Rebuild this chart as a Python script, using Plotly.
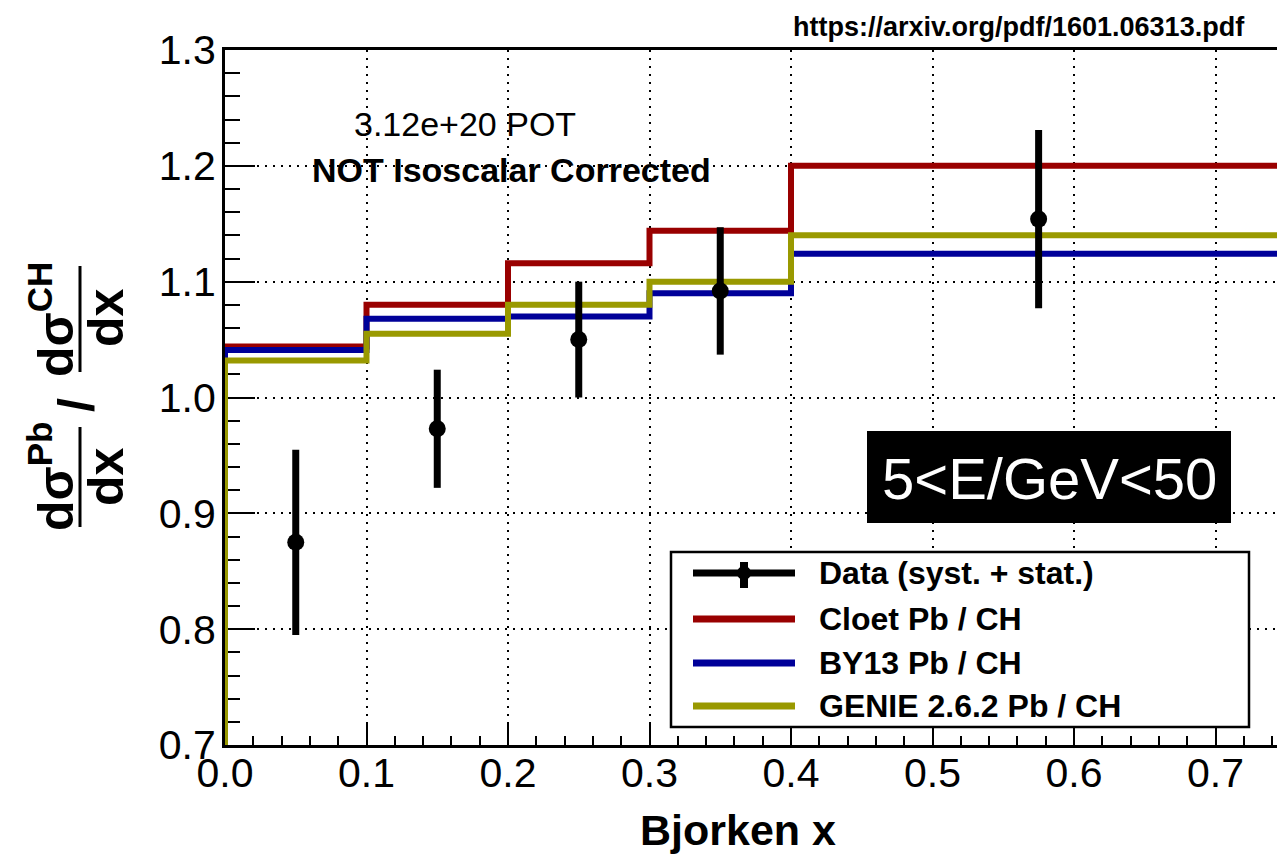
import plotly.graph_objects as go

# ---------------- data ----------------
bin_edges = [0.0, 0.1, 0.2, 0.3, 0.4, 0.75]
cloet = [1.044, 1.080, 1.116, 1.144, 1.200]
by13 = [1.041, 1.068, 1.070, 1.090, 1.124]
genie = [1.032, 1.055, 1.080, 1.100, 1.140]

data_x = [0.05, 0.15, 0.25, 0.35, 0.575]
data_y = [0.875, 0.973, 1.050, 1.092, 1.154]
data_err = [0.080, 0.051, 0.050, 0.055, 0.077]

legend_labels = ["Data (syst. + stat.)", "Cloet Pb / CH", "BY13 Pb / CH", "GENIE 2.6.2 Pb / CH"]
x_ticks = [0.0, 0.1, 0.2, 0.3, 0.4, 0.5, 0.6, 0.7]
y_ticks = [0.7, 0.8, 0.9, 1.0, 1.1, 1.2, 1.3]

RED, BLUE, OLIVE = "#990000", "#000099", "#999900"
FONT = "Liberation Sans, Arial, Helvetica, sans-serif"

# ---------------- geometry ----------------
W, H = 1277, 857
L, R, T, B = 225, 0, 50, 112
PW, PH = W - L - R, H - T - B
Y_MIN, Y_MAX = 0.7, 1.3
X_MAX = PW / 1415.0


def px(xp):
    return (xp - L) / PW


def py(yp):
    return (H - B - yp) / PH


def step_xy(edges, vals, base):
    xs = [edges[0]] + list(edges)
    ys = [base] + list(vals) + [vals[-1]]
    return xs, ys


fig = go.Figure()
for vals, col, name in [(cloet, RED, legend_labels[1]), (by13, BLUE, legend_labels[2]),
                        (genie, OLIVE, legend_labels[3])]:
    xs, ys = step_xy(bin_edges, vals, Y_MIN)
    fig.add_trace(go.Scatter(x=xs, y=ys, mode="lines", line=dict(color=col, width=6, shape="hv"),
                             name=name, showlegend=False, hoverinfo="skip", cliponaxis=False))

fig.add_trace(go.Scatter(
    x=data_x, y=data_y, mode="markers", name=legend_labels[0], showlegend=False,
    marker=dict(color="black", size=17, symbol="circle"),
    error_y=dict(type="data", array=data_err, thickness=7, width=0, color="black"),
))

axis_common = dict(
    showline=True, linecolor="black", linewidth=3,
    ticks="inside", tickcolor="black", tickwidth=2,
    showgrid=True, gridcolor="black", gridwidth=2, griddash="2px,6px",
    zeroline=False, tickformat=".1f",
    tickfont=dict(family=FONT, size=41, color="black"),
    layer="below traces",
)

fig.update_layout(
    width=W, height=H,
    margin=dict(l=L, r=R, t=T, b=B, pad=0),
    paper_bgcolor="white", plot_bgcolor="white",
    showlegend=False,
    xaxis=dict(range=[0, X_MAX], tickvals=x_ticks, ticklen=22, mirror=True,
               minor=dict(dtick=0.02, tick0=0, ticks="inside", ticklen=9, tickwidth=2,
                          tickcolor="black", showgrid=False),
               ticklabelstandoff=-10, **axis_common),
    yaxis=dict(range=[Y_MIN, Y_MAX], tickvals=y_ticks, ticklen=30,
               minor=dict(dtick=0.02, tick0=0.7, ticks="inside", ticklen=15, tickwidth=2,
                          tickcolor="black", showgrid=False),
               ticklabelstandoff=-2, **axis_common),
)

ann = []
shapes = []

# x title
ann.append(dict(text="<b>Bjorken x</b>", x=px(738), y=py(830), xref="paper", yref="paper",
                showarrow=False, xanchor="center", yanchor="middle",
                font=dict(family=FONT, size=43, color="black")))

# y title composed as rotated fraction
yfont = dict(family=FONT, size=50, color="black")
for (cx, cy, txt) in [(52, 477, "<b>dσ<sup>Pb</sup></b>"), (106, 477, "<b>dx</b>"),
                      (76, 405, "<b>/</b>"),
                      (52, 320, "<b>dσ<sup>CH</sup></b>"), (106, 318, "<b>dx</b>")]:
    ann.append(dict(text=txt, x=px(cx), y=py(cy), xref="paper", yref="paper", textangle=-90,
                    showarrow=False, xanchor="center", yanchor="middle", font=yfont))
for (y0, y1) in [(427, 527), (266, 372)]:
    shapes.append(dict(type="line", xref="paper", yref="paper", x0=px(80), x1=px(80),
                       y0=py(y0), y1=py(y1), line=dict(color="black", width=3)))

# info texts
ann.append(dict(text="3.12e+20 POT", x=px(465), y=py(124), xref="paper", yref="paper",
                showarrow=False, xanchor="center", yanchor="middle",
                font=dict(family=FONT, size=34, color="black")))
ann.append(dict(text="<b>NOT Isoscalar Corrected</b>", x=px(511), y=py(170), xref="paper", yref="paper",
                showarrow=False, xanchor="center", yanchor="middle",
                font=dict(family=FONT, size=34, color="black")))
ann.append(dict(text="<b>https://arxiv.org/pdf/1601.06313.pdf</b>", x=px(1247), y=py(27),
                xref="paper", yref="paper", showarrow=False, xanchor="right", yanchor="middle",
                font=dict(family=FONT, size=27, color="black")))

# energy box
shapes.append(dict(type="rect", xref="paper", yref="paper", x0=px(867), x1=px(1231),
                   y0=py(523), y1=py(431), fillcolor="black", line=dict(width=0), layer="above"))
ann.append(dict(text="5<E/GeV<50", x=px(1049), y=py(478), xref="paper", yref="paper",
                showarrow=False, xanchor="center", yanchor="middle",
                font=dict(family=FONT, size=58, color="white")))

# legend (drawn manually)
shapes.append(dict(type="rect", xref="paper", yref="paper", x0=px(671), x1=px(1249),
                   y0=py(727), y1=py(552), fillcolor="white", line=dict(color="black", width=2.5),
                   layer="above"))
rows_y = [573, 619, 663, 706]
row_cols = ["black", RED, BLUE, OLIVE]
for ry, col, lab in zip(rows_y, row_cols, legend_labels):
    shapes.append(dict(type="line", xref="paper", yref="paper", x0=px(693), x1=px(795),
                       y0=py(ry), y1=py(ry), line=dict(color=col, width=7), layer="above"))
    ann.append(dict(text="<b>" + lab + "</b>", x=px(817), y=py(ry), xref="paper", yref="paper",
                    showarrow=False, xanchor="left", yanchor="middle",
                    font=dict(family=FONT, size=32, color="black")))
# data legend symbol: vertical bar + marker
shapes.append(dict(type="line", xref="paper", yref="paper", x0=px(744), x1=px(744),
                   y0=py(562), y1=py(588), line=dict(color="black", width=8), layer="above"))
shapes.append(dict(type="circle", xref="paper", yref="paper", x0=px(737), x1=px(751),
                   y0=py(580), y1=py(566), fillcolor="black", line=dict(width=0), layer="above"))

fig.update_layout(annotations=ann, shapes=shapes)
fig.write_html("out.html")
